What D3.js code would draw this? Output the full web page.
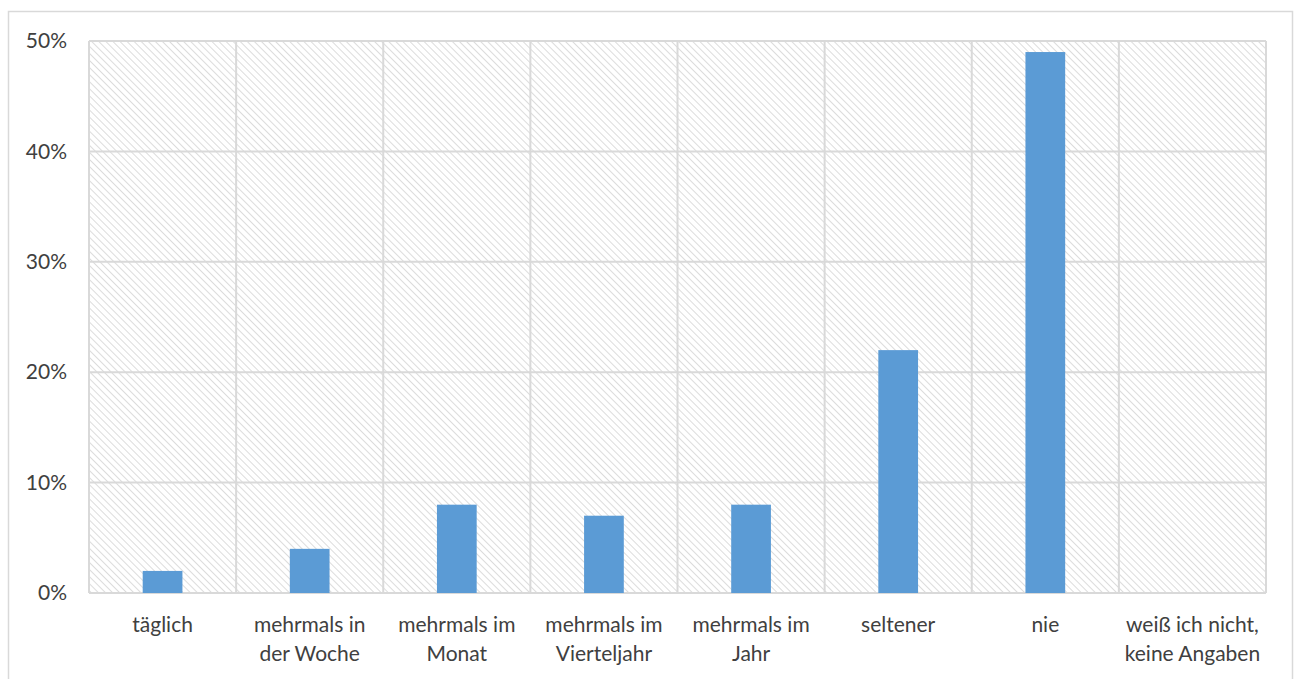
<!DOCTYPE html>
<html><head><meta charset="utf-8">
<script src="https://cdn.jsdelivr.net/npm/d3@7"></script>
<style>body{margin:0;background:#fff}svg{display:block}text{font-family:Lato,"Open Sans",sans-serif;fill:#404040}</style>
</head><body><svg id="c" width="1294" height="679"></svg>
<script>
const categories = [["täglich"],["mehrmals in","der Woche"],["mehrmals im","Monat"],["mehrmals im","Vierteljahr"],["mehrmals im","Jahr"],["seltener"],["nie"],["weiß ich nicht,","keine Angaben"]];
const values = [2, 4, 8, 7, 8, 22, 49, 0];
const yTicks = [0, 10, 20, 30, 40, 50];

const svg = d3.select("#c");
const W = 1294, H = 679;
const m = {l:89, r:28, t:41, b:86};
const defs = svg.append("defs");
const pat = defs.append("pattern").attr("id","hatch").attr("patternUnits","userSpaceOnUse")
  .attr("width",5).attr("height",5).attr("patternTransform","rotate(-45)");
pat.append("rect").attr("width",5).attr("height",5).attr("fill","#fff");
pat.append("line").attr("x1",0).attr("y1",0).attr("x2",0).attr("y2",5).attr("stroke","#d4d4d4").attr("stroke-width",1.6);

// outer frame
svg.append("rect").attr("x",8.5).attr("y",11.5).attr("width",1284).attr("height",700)
  .attr("fill","none").attr("stroke","#d9d9d9").attr("stroke-width",1.5);

const x = d3.scaleBand().domain(d3.range(categories.length)).range([m.l, W-m.r]).paddingInner(0).paddingOuter(0);
const y = d3.scaleLinear().domain([0,50]).range([H-m.b, m.t]);

const g = svg.append("g");
g.append("rect").attr("x",m.l).attr("y",m.t).attr("width",W-m.r-m.l).attr("height",H-m.b-m.t).attr("fill","url(#hatch)");

// horizontal grid
g.selectAll(".hg").data(yTicks).join("line")
  .attr("x1",m.l).attr("x2",W-m.r).attr("y1",d=>y(d)).attr("y2",d=>y(d))
  .attr("stroke","#d9d9d9").attr("stroke-width",2);
// vertical grid at band boundaries
const bounds = d3.range(categories.length+1).map(i => i<categories.length ? x(i) : x(categories.length-1)+x.bandwidth());
g.selectAll(".vg").data(bounds).join("line")
  .attr("x1",d=>d).attr("x2",d=>d).attr("y1",m.t).attr("y2",H-m.b)
  .attr("stroke","#d9d9d9").attr("stroke-width",2);

// bars
const bw = x.bandwidth()*0.27;
g.selectAll(".bar").data(values).join("rect")
  .attr("x",(d,i)=>x(i)+x.bandwidth()/2-bw/2).attr("width",bw)
  .attr("y",d=>y(d)).attr("height",d=>y(0)-y(d))
  .attr("fill","#5b9bd5");

// y axis labels
const yAxis = d3.axisLeft(y).tickValues(yTicks).tickFormat(d=>d+"%").tickSize(0).tickPadding(22);
const ya = svg.append("g").attr("transform",`translate(${m.l},0)`).call(yAxis);
ya.select(".domain").remove();
ya.selectAll("text").attr("font-size",21).attr("fill","#404040").style("font-family","Lato, 'Open Sans', sans-serif");

// x labels
const xl = svg.append("g").selectAll("text").data(categories).join("text")
  .attr("text-anchor","middle").attr("font-size",21)
  .attr("transform",(d,i)=>`translate(${x(i)+x.bandwidth()/2},${H-m.b+39})`);
xl.selectAll("tspan").data(d=>d).join("tspan").attr("x",0).attr("dy",(d,j)=>j===0?0:29).text(d=>d);
</script></body></html>
